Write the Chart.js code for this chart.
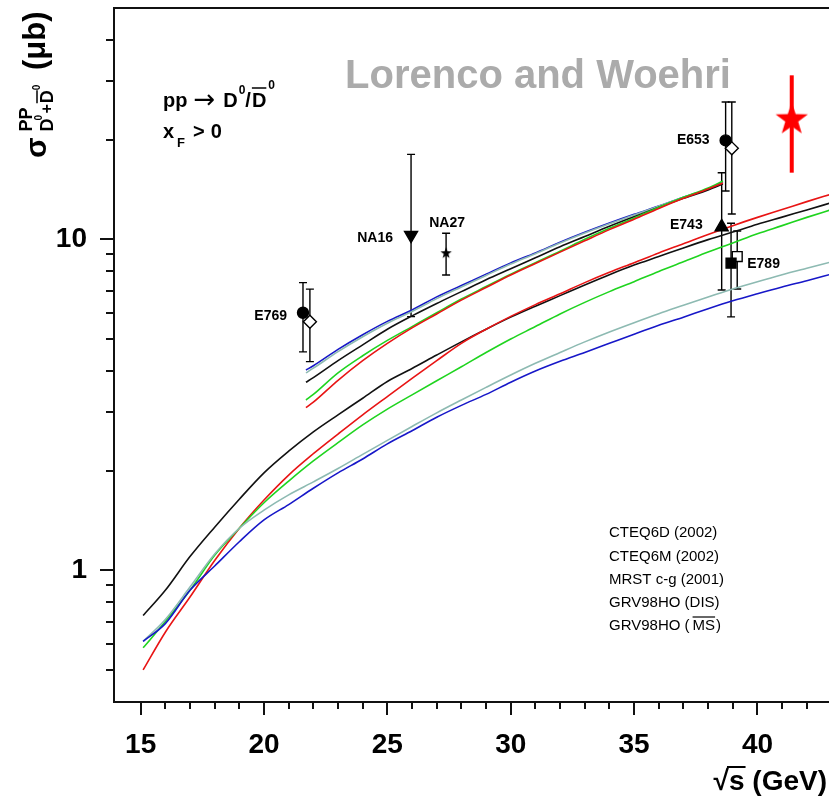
<!DOCTYPE html>
<html><head><meta charset="utf-8">
<script src="https://cdn.jsdelivr.net/npm/chart.js@4"></script>
<style>html,body{margin:0;padding:0;background:#fff;}#wrap{width:829px;height:796px;}</style>
</head><body><div id="wrap"><canvas id="c" width="829" height="796"></canvas></div>
<script>
const FONT = '"Liberation Sans", Arial, Helvetica, sans-serif';

// ---- axis ticks ----
const xTickValues = [15,16,17,18,19,20,21,22,23,24,25,26,27,28,29,30,31,32,33,34,35,36,37,38,39,40,41,42];
const xLabelValues = [15,20,25,30,35,40];
const yTickValues = [0.5,0.6,0.7,0.8,0.9,1,2,3,4,5,6,7,8,9,10,20,30,40];
const yLabelValues = [1,10];

// ---- theory curves: upper band ----
const xUpper = [21.7,22,23,24,25,26,27,28,29,30,31,32,33,34,35,36,37,38,38.6];
const upperBlue  = [4.03,4.15,4.65,5.15,5.65,6.12,6.70,7.25,7.85,8.49,9.10,9.80,10.5,11.2,11.9,12.6,13.4,14.2,14.9];
const upperTeal  = [3.95,4.08,4.58,5.08,5.58,6.05,6.62,7.18,7.78,8.42,9.05,9.75,10.45,11.15,11.85,12.6,13.4,14.2,14.8];
const upperBlack = [3.70,3.82,4.30,4.80,5.35,5.87,6.40,6.95,7.55,8.15,8.80,9.50,10.2,10.95,11.7,12.5,13.3,14.1,14.7];
const upperGreen = [3.27,3.40,3.95,4.45,4.95,5.45,6.00,6.60,7.20,7.85,8.50,9.20,10.0,10.8,11.6,12.5,13.4,14.3,15.0];
const upperRed   = [3.10,3.22,3.75,4.30,4.85,5.40,5.95,6.55,7.15,7.80,8.45,9.15,9.90,10.7,11.5,12.4,13.3,14.2,14.8];

// ---- theory curves: lower band ----
const xLower = [15.1,16,17,18,19,20,21,22,23,24,25,26,27,28,29,30,31,32,33,34,35,36,37,38,39,40,41,42,43];
const lowerBlack = [0.73,0.87,1.10,1.35,1.64,1.97,2.29,2.62,2.95,3.31,3.72,4.07,4.47,4.90,5.35,5.82,6.28,6.76,7.28,7.82,8.36,8.87,9.42,9.98,10.52,11.1,11.67,12.27,12.9];
const lowerRed   = [0.50,0.65,0.83,1.07,1.34,1.63,1.94,2.25,2.58,2.95,3.35,3.80,4.30,4.85,5.35,5.85,6.35,6.85,7.40,7.95,8.50,9.10,9.70,10.35,11.0,11.65,12.3,13.0,13.7];
const lowerGreen = [0.583,0.70,0.87,1.11,1.34,1.60,1.86,2.14,2.43,2.75,3.07,3.39,3.74,4.12,4.55,5.00,5.45,5.95,6.45,6.95,7.45,8.00,8.55,9.15,9.75,10.4,11.0,11.65,12.3];
const lowerTeal  = [0.61,0.71,0.89,1.12,1.34,1.52,1.69,1.85,2.03,2.24,2.47,2.72,2.99,3.27,3.57,3.89,4.22,4.55,4.90,5.25,5.60,5.96,6.32,6.70,7.08,7.45,7.82,8.18,8.55];
const lowerBlue  = [0.61,0.69,0.87,1.03,1.22,1.42,1.58,1.77,1.97,2.17,2.41,2.64,2.90,3.15,3.40,3.70,4.00,4.28,4.55,4.85,5.17,5.50,5.82,6.17,6.52,6.85,7.18,7.50,7.85];

// ---- measurements ----
const expNames = ['E769','','NA16','NA27','E653','','E743','','E789'];
const expX  = [21.58,21.86,25.96,27.38,38.71,38.96,38.55,38.93,39.18];
const expY  = [6.0,5.64,10.3,9.08,19.9,18.83,10.9,8.47,8.87];
const expLo = [4.57,4.27,5.84,7.8,14.0,11.93,7.03,5.83,7.08];
const expHi = [7.4,7.07,18.06,10.43,26.0,26.0,15.9,11.18,10.6];

const newX = [41.39];
const newY = [23.0];
const newLo = [15.9];
const newHi = [31.3];

// legend text
const legendLines = ['CTEQ6D (2002)','CTEQ6M (2002)','MRST c-g (2001)','GRV98HO (DIS)','GRV98HO ('];

// ---- helpers ----
function starCanvas(r, color) {
  const s = Math.ceil(2 * r + 4);
  const c = document.createElement('canvas');
  c.width = s; c.height = s;
  const g = c.getContext('2d');
  const cx = s / 2, cy = s / 2, ri = r * 0.40;
  g.beginPath();
  for (let i = 0; i < 10; i++) {
    const rad = i % 2 === 0 ? r : ri;
    const a = -Math.PI / 2 + i * Math.PI / 5;
    const px = cx + rad * Math.cos(a), py = cy + rad * Math.sin(a);
    if (i === 0) g.moveTo(px, py); else g.lineTo(px, py);
  }
  g.closePath();
  g.fillStyle = color; g.fill();
  return c;
}
const smallStar = starCanvas(6, '#000');
const bigStar = starCanvas(17, '#ff0000');

const markerStyles = [
  {ps:'circle', r:5.5, bg:'#000'},
  {ps:'rectRot', r:6.5, bg:'#fff'},
  {ps:'triangle', r:7.5, bg:'#000', rot:180},
  {ps:smallStar, r:6, bg:'#000'},
  {ps:'circle', r:5.5, bg:'#000'},
  {ps:'rectRot', r:6.5, bg:'#fff'},
  {ps:'triangle', r:7.5, bg:'#000'},
  {ps:'rect', r:7, bg:'#000'},
  {ps:'rect', r:7, bg:'#fff'}
];
const labelPos = [
  {dx:-16, dy:7, al:'right'}, null,
  {dx:-18, dy:7, al:'right'},
  {dx:1, dy:-26, al:'center'},
  {dx:-16, dy:4, al:'right'}, null,
  {dx:-19, dy:2, al:'right'}, null,
  {dx:10, dy:11, al:'left'}
];

function curve(xs, ys, color) {
  return {
    data: xs.map((x, i) => ({x: x, y: ys[i]})),
    showLine: true, borderColor: color, borderWidth: 1.6,
    pointRadius: 0, pointHoverRadius: 0, fill: false,
    cubicInterpolationMode: 'monotone', order: 10
  };
}

const datasets = [];
datasets.push(curve(xLower, lowerBlue, '#1717c8'));
datasets.push(curve(xLower, lowerTeal, '#8dbab2'));
datasets.push(curve(xLower, lowerGreen, '#1fd41f'));
datasets.push(curve(xLower, lowerRed, '#e81414'));
datasets.push(curve(xLower, lowerBlack, '#111111'));
datasets.push(curve(xUpper, upperRed, '#e81414'));
datasets.push(curve(xUpper, upperGreen, '#1fd41f'));
datasets.push(curve(xUpper, upperBlack, '#111111'));
datasets.push(curve(xUpper, upperTeal, '#8dbab2'));
datasets.push(curve(xUpper, upperBlue, '#1717c8'));

expX.forEach((x, i) => {
  const st = markerStyles[i];
  datasets.push({
    data: [{x: x, y: expY[i]}],
    showLine: false, pointStyle: st.ps, pointRadius: st.r, pointHoverRadius: st.r,
    pointRotation: st.rot || 0,
    pointBackgroundColor: st.bg, pointBorderColor: '#000', pointBorderWidth: 1.4,
    order: 0
  });
});
datasets.push({
  data: newX.map((x, i) => ({x: x, y: newY[i]})),
  showLine: false, pointStyle: bigStar, pointRadius: 17, order: 0
});

function drawOverlined(ctx, text, x, y, font, lineY) {
  ctx.font = font;
  const w = ctx.measureText(text).width;
  ctx.fillText(text, x, y);
  ctx.beginPath(); ctx.moveTo(x, lineY); ctx.lineTo(x + w, lineY); ctx.stroke();
  return w;
}

const decor = {
  id: 'decor',
  beforeDatasetsDraw(chart) {
    const ctx = chart.ctx, xs = chart.scales.x, ys = chart.scales.y;
    ctx.save();
    ctx.strokeStyle = '#000'; ctx.lineWidth = 1.4;
    expX.forEach((x, i) => {
      const px = xs.getPixelForValue(x);
      const p1 = ys.getPixelForValue(expLo[i]), p2 = ys.getPixelForValue(expHi[i]);
      ctx.beginPath();
      ctx.moveTo(px, p1); ctx.lineTo(px, p2);
      ctx.moveTo(px - 4, p1); ctx.lineTo(px + 4, p1);
      ctx.moveTo(px - 4, p2); ctx.lineTo(px + 4, p2);
      ctx.stroke();
    });
    ctx.strokeStyle = '#ff0000'; ctx.lineWidth = 4;
    newX.forEach((x, i) => {
      const px = xs.getPixelForValue(x);
      ctx.beginPath();
      ctx.moveTo(px, ys.getPixelForValue(newLo[i]));
      ctx.lineTo(px, ys.getPixelForValue(newHi[i]));
      ctx.stroke();
    });
    ctx.restore();
  },
  afterDraw(chart) {
    const ctx = chart.ctx, xs = chart.scales.x, ys = chart.scales.y, a = chart.chartArea;
    ctx.save();
    // frame
    ctx.strokeStyle = '#111'; ctx.lineWidth = 2;
    ctx.beginPath();
    ctx.moveTo(a.right + 2, a.top); ctx.lineTo(a.left, a.top); ctx.lineTo(a.left, a.bottom); ctx.lineTo(a.right + 2, a.bottom);
    ctx.stroke();
    // ticks
    ctx.lineWidth = 2;
    ctx.beginPath();
    xTickValues.forEach(v => {
      const px = Math.round(xs.getPixelForValue(v));
      const len = xLabelValues.includes(v) ? 13 : 7;
      ctx.moveTo(px, a.bottom); ctx.lineTo(px, a.bottom + len);
    });
    yTickValues.forEach(v => {
      const py = Math.round(ys.getPixelForValue(v));
      const len = yLabelValues.includes(v) ? 14 : 8;
      ctx.moveTo(a.left, py); ctx.lineTo(a.left - len, py);
    });
    ctx.stroke();

    // experiment labels
    ctx.fillStyle = '#000';
    ctx.font = 'bold 14px ' + FONT;
    ctx.textBaseline = 'alphabetic';
    expNames.forEach((n, i) => {
      const lp = labelPos[i];
      if (!n || !lp) return;
      const px = xs.getPixelForValue(expX[i]), py = ys.getPixelForValue(expY[i]);
      ctx.textAlign = lp.al;
      ctx.fillText(n, px + lp.dx, py + lp.dy);
    });

    // watermark
    ctx.textAlign = 'center';
    ctx.fillStyle = '#ababab';
    ctx.font = 'bold 40px ' + FONT;
    ctx.fillText('Lorenco and Woehri', 538, 88);

    // process label
    ctx.fillStyle = '#000'; ctx.strokeStyle = '#000'; ctx.lineWidth = 1.5;
    ctx.textAlign = 'left';
    let x = 163;
    ctx.font = 'bold 20px ' + FONT;
    ctx.fillText('pp', x, 107); x += ctx.measureText('pp').width + 6;
    ctx.font = '26px "DejaVu Sans", ' + FONT;
    ctx.fillText('\u2192', x, 108); x += ctx.measureText('\u2192').width + 8;
    ctx.font = 'bold 20px ' + FONT;
    ctx.fillText('D', x, 107); x += ctx.measureText('D').width + 1;
    ctx.font = 'bold 12px ' + FONT; ctx.fillText('0', x, 94); x += ctx.measureText('0').width;
    ctx.font = 'bold 20px ' + FONT; ctx.fillText('/', x, 107); x += ctx.measureText('/').width + 1;
    x += drawOverlined(ctx, 'D', x, 107, 'bold 20px ' + FONT, 88) + 2;
    ctx.font = 'bold 12px ' + FONT; ctx.fillText('0', x, 89);
    x = 163;
    ctx.font = 'bold 20px ' + FONT;
    ctx.fillText('x', x, 138); x += ctx.measureText('x').width + 3;
    ctx.font = 'bold 13px ' + FONT; ctx.fillText('F', x, 147); x += ctx.measureText('F').width + 8;
    ctx.font = 'bold 20px ' + FONT; ctx.fillText('>', x, 138); x += ctx.measureText('>').width + 6;
    ctx.fillText('0', x, 138);

    // legend text
    ctx.font = '15px ' + FONT; ctx.lineWidth = 1.2;
    const lb = [537, 561, 584, 607, 630];
    legendLines.forEach((t, i) => {
      ctx.fillText(t, 609, lb[i]);
      if (i === 4) {
        let lx = 609 + ctx.measureText(t).width + 3;
        lx += drawOverlined(ctx, 'MS', lx, lb[i], '15px ' + FONT, lb[i] - 13);
        ctx.fillText(')', lx + 1, lb[i]);
      }
    });

    // x title
    ctx.font = 'bold 28px ' + FONT; ctx.lineWidth = 2;
    const t1 = '\u221A', t2 = 's', t3 = ' (GeV)';
    const w1 = ctx.measureText(t1).width, w2 = ctx.measureText(t2).width, w3 = ctx.measureText(t3).width;
    let tx = 827 - (w1 + w2 + w3);
    ctx.fillText(t1, tx, 790); tx += w1;
    ctx.fillText(t2, tx, 790);
    ctx.beginPath(); ctx.moveTo(tx - 2, 767); ctx.lineTo(tx + w2 + 1, 767); ctx.stroke();
    tx += w2;
    ctx.fillText(t3, tx, 790);

    // y title (rotated)
    ctx.translate(46, 158);
    ctx.rotate(-Math.PI / 2);
    let r = 0;
    ctx.font = 'bold 30px ' + FONT; ctx.fillText('\u03C3', r, 0); r += ctx.measureText('\u03C3').width + 6;
    const subStart = r;
    ctx.font = 'bold 18px ' + FONT; ctx.fillText('PP', subStart, -14);
    ctx.font = 'bold 18px ' + FONT; ctx.fillText('D', r, 7); r += ctx.measureText('D').width;
    ctx.font = 'bold 10px ' + FONT; ctx.fillText('0', r - 2, -4); r += 5;
    ctx.font = 'bold 16px ' + FONT; ctx.fillText('+', r, 6); r += ctx.measureText('+').width + 1;
    ctx.lineWidth = 1.5;
    r += drawOverlined(ctx, 'D', r, 7, 'bold 18px ' + FONT, -9);
    ctx.font = 'bold 10px ' + FONT; ctx.fillText('0', r, -6);
    ctx.font = 'bold 31px ' + FONT; ctx.fillText('(\u03BCb)', 88, -1);
    ctx.restore();
  }
};

new Chart(document.getElementById('c'), {
  type: 'scatter',
  data: { datasets: datasets },
  options: {
    responsive: false, animation: false, devicePixelRatio: 1,
    layout: { autoPadding: false, padding: { top: 8, right: 0, left: 0, bottom: 0 } },
    plugins: { legend: { display: false }, tooltip: { enabled: false } },
    scales: {
      x: {
        type: 'linear', min: 13.92, max: 42.9,
        grid: { display: false, drawTicks: false }, border: { display: false },
        afterBuildTicks: (s) => { s.ticks = xTickValues.map(v => ({value: v})); },
        afterFit: (s) => { s.height = 94; s.paddingLeft = 0; s.paddingRight = 0; },
        ticks: {
          autoSkip: false, maxRotation: 0, padding: 26, color: '#000',
          font: { family: FONT, size: 28, weight: 'bold' },
          callback: (v) => xLabelValues.includes(v) ? String(v) : ''
        }
      },
      y: {
        type: 'logarithmic', min: 0.4, max: 50,
        grid: { display: false, drawTicks: false }, border: { display: false },
        afterBuildTicks: (s) => { s.ticks = yTickValues.map(v => ({value: v})); },
        afterFit: (s) => { s.width = 114; s.paddingTop = 0; s.paddingBottom = 0; },
        ticks: {
          autoSkip: false, padding: 27, color: '#000',
          font: { family: FONT, size: 28, weight: 'bold' },
          callback: (v) => yLabelValues.includes(v) ? String(v) : ''
        }
      }
    }
  },
  plugins: [decor]
});
</script>
</body></html>
